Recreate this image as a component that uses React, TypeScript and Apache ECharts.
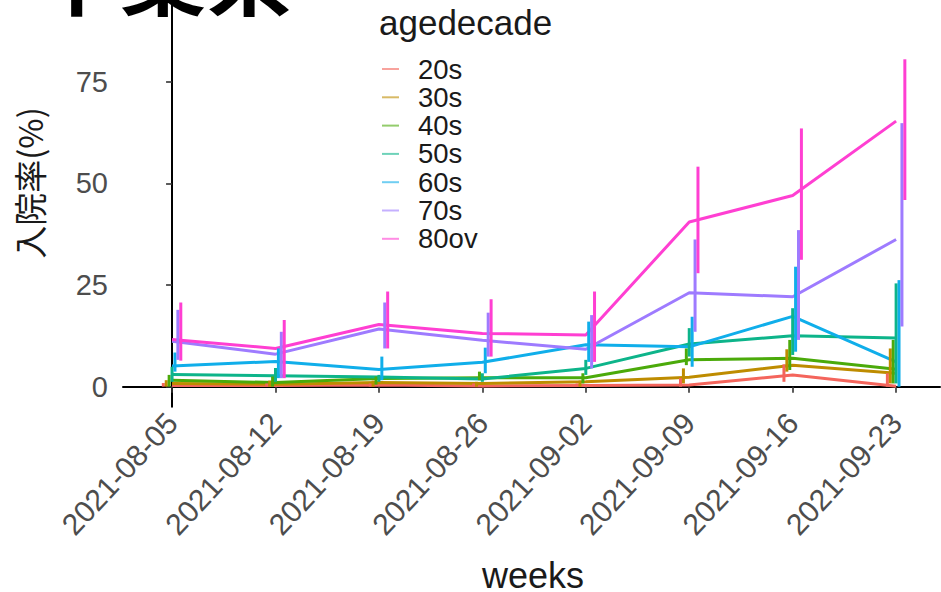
import React, { useEffect, useRef } from "react";
import * as echarts from "echarts";

const weeks = ["2021-08-05", "2021-08-12", "2021-08-19", "2021-08-26", "2021-09-02", "2021-09-09", "2021-09-16", "2021-09-23"];
const groups = ["20s", "30s", "40s", "50s", "60s", "70s", "80ov"];
const colors = ["#F4655C", "#BE8C00", "#4BAA0A", "#0DB48A", "#10AEEA", "#9E7BFF", "#FF3FD2"];
const yTicks = [0, 25, 50, 75];

const mean20s = [0.3, 0.3, 0.4, 0.2, 0.3, 0.4, 2.9, 0.1];
const mean30s = [0.8, 0.6, 1.0, 0.8, 1.2, 2.3, 5.3, 3.3];
const mean40s = [1.6, 1.0, 2.0, 2.2, 2.2, 6.6, 7.0, 4.3];
const mean50s = [3.0, 2.7, 2.4, 1.9, 4.5, 10.5, 12.5, 12.0];
const mean60s = [5.1, 6.2, 4.2, 6.0, 10.3, 9.8, 17.3, 6.1];
const mean70s = [11.2, 8.0, 14.2, 11.4, 9.2, 23.1, 22.1, 36.2];
const mean80ov = [11.6, 9.4, 15.3, 13.1, 12.7, 40.5, 47.0, 65.3];

const low20s = [0, 0, 0, 0, 0, 0, 1.2, 0];
const high20s = [0.9, 0.8, 0.8, 0.8, 0.8, 2.1, 5.5, 3.3];
const low30s = [0, 0, 0, 0, 0, 0.8, 3.7, 0.8];
const high30s = [1.6, 1.5, 1.5, 1.2, 1.5, 4.5, 9.2, 9.4];
const low40s = [0, 0, 0.5, 1.6, 0.8, 5.3, 4.1, 0.8];
const high40s = [2.9, 2.5, 2.5, 3.7, 3.3, 9.4, 11.5, 11.5];
const low50s = [1.2, 1.2, 1.2, 1.2, 2.9, 7.4, 7.8, 0.8];
const high50s = [4.9, 4.6, 2.9, 3.3, 6.6, 14.4, 19.3, 25.4];
const low60s = [3.7, 2.1, 1.6, 3.3, 6.1, 4.9, 8.6, 0];
const high60s = [8.4, 9.4, 7.4, 9.6, 16.0, 17.2, 29.5, 26.2];
const low70s = [6.6, 2.1, 9.4, 7.4, 4.5, 13.5, 11.5, 14.8];
const high70s = [18.9, 13.5, 20.7, 18.2, 17.6, 36.2, 38.5, 64.8];
const low80ov = [6.4, 2.1, 9.4, 7.4, 6.1, 27.9, 31.2, 45.9];
const high80ov = [20.7, 16.4, 23.4, 21.5, 23.4, 54.1, 63.5, 80.5];

const means = [mean20s, mean30s, mean40s, mean50s, mean60s, mean70s, mean80ov];
const lows = [low20s, low30s, low40s, low50s, low60s, low70s, low80ov];
const highs = [high20s, high30s, high40s, high50s, high60s, high70s, high80ov];

const DAY = 86400000;
const dayOf = (w: string) => (Date.parse(w) - Date.parse(weeks[0])) / DAY;
const dayIdx = weeks.map(dayOf);
const DODGE = 0.197; // days between dodged error bars

export default function App() {
  const ref = useRef<HTMLDivElement>(null);
  useEffect(() => {
    document.body.style.margin = "0";
    if (!ref.current) return;
    const chart = echarts.init(ref.current, null, { renderer: "svg" });
    const font = "'Liberation Sans', Arial, sans-serif";
    const lineSeries = groups.map((g, i) => ({
      name: g,
      type: "line",
      data: weeks.map((w, k) => [dayOf(w), means[i][k]]),
      showSymbol: false,
      symbol: "none",
      color: colors[i],
      lineStyle: { color: colors[i], width: 3 },
      z: 2,
    }));
    const errSeries = groups.map((g, i) => ({
      name: g + " err",
      type: "custom",
      data: weeks.map((w, k) => [dayOf(w), lows[i][k], highs[i][k]]),
      z: 3,
      renderItem: (params: any, api: any) => {
        const x = api.value(0) + (i - 3) * DODGE;
        const p1 = api.coord([x, api.value(1)]);
        const p2 = api.coord([x, api.value(2)]);
        return {
          type: "line",
          shape: { x1: p1[0], y1: p1[1], x2: p2[0], y2: p2[1] },
          style: { stroke: colors[i], lineWidth: 3 },
        };
      },
    }));
    chart.setOption({
      animation: false,
      grid: { left: 123, right: 1, top: 0, bottom: 185.3, containLabel: false },
      xAxis: {
        type: "value",
        min: -3.32,
        max: 51.97,
        axisLine: { show: true, lineStyle: { color: "#000", width: 2 } },
        axisTick: { show: true, customValues: dayIdx, length: 6, lineStyle: { color: "#333", width: 1.6 } },
        axisLabel: {
          customValues: dayIdx,
          rotate: 47,
          fontSize: 30,
          fontFamily: font,
          color: "#4D4D4D",
          margin: 11,
          formatter: (v: number) => weeks[Math.round(v / 7)] ?? "",
        },
        splitLine: { show: false },
      },
      yAxis: {
        type: "value",
        min: -4.92,
        max: 95.08,
        axisLine: { show: true, lineStyle: { color: "#000", width: 2 } },
        axisTick: { show: true, customValues: yTicks, length: 6, lineStyle: { color: "#333", width: 1.6 } },
        axisLabel: { customValues: yTicks, fontSize: 29, fontFamily: font, color: "#4D4D4D", margin: 15 },
        splitLine: { show: false },
      },
      legend: {
        orient: "vertical",
        left: 382,
        top: 55,
        data: groups.map((g) => ({ name: g, itemStyle: { opacity: 0.6 } })),
        icon: "rect",
        itemWidth: 17,
        itemHeight: 2,
        itemGap: 0.3,
        padding: 0,
        textStyle: { fontSize: 27.5, lineHeight: 26, fontFamily: font, color: "#1A1A1A", padding: [0, 0, 0, 14] },
      },
      graphic: [
        {
          type: "text",
          x: 34,
          y: 14,
          style: {
            text: "千葉県",
            font: "bold 86px 'Noto Sans CJK JP'",
            fill: "#000",
            textVerticalAlign: "bottom",
          },
        },
        {
          type: "text",
          x: 379,
          y: 22,
          style: { text: "agedecade", font: "35px 'Liberation Sans', Arial", fill: "#1A1A1A", textVerticalAlign: "middle" },
        },
        {
          type: "text",
          x: 29,
          y: 183,
          rotation: Math.PI / 2,
          style: {
            text: "入院率(%)",
            font: "33px 'Noto Sans CJK JP'",
            fill: "#1A1A1A",
            textAlign: "center",
            textVerticalAlign: "middle",
          },
        },
        {
          type: "text",
          x: 533,
          y: 575,
          style: {
            text: "weeks",
            font: "36px 'Liberation Sans', Arial",
            lineHeight: 30,
            fill: "#1A1A1A",
            textAlign: "center",
            textVerticalAlign: "middle",
          },
        },
      ],
      series: [...lineSeries, ...errSeries],
    });
    return () => chart.dispose();
  }, []);
  return <div ref={ref} style={{ width: 941, height: 592 }} />;
}
